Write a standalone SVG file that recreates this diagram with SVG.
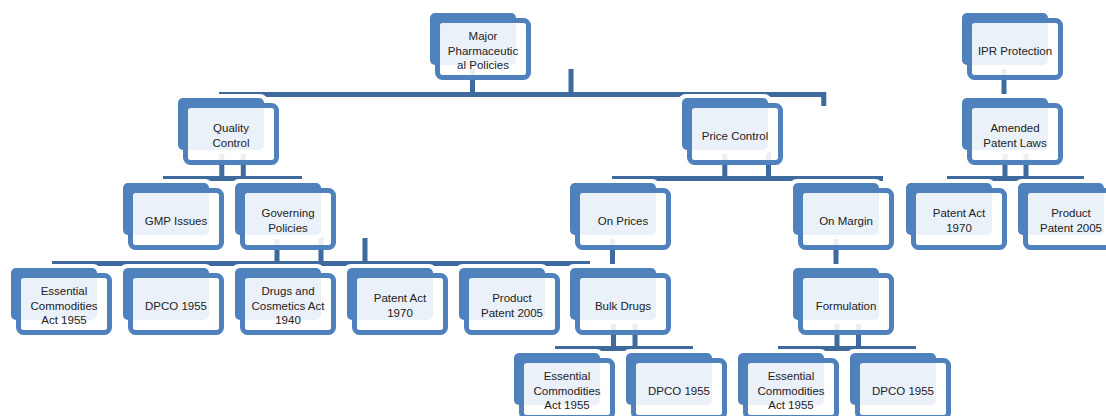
<svg xmlns="http://www.w3.org/2000/svg" xmlns:xlink="http://www.w3.org/1999/xlink" width="1106" height="416" viewBox="0 0 1106 416">
<style>
.halo{fill:#ffffff}
.back{fill:#4F81BD}
.front{fill:#ffffff;fill-opacity:0.89;stroke:#4F81BD;stroke-width:5}
.conn path{fill:none;stroke:#3F6A9E;stroke-width:5;stroke-linecap:butt}
text{font-family:"Liberation Sans",Arial,sans-serif;font-size:11.5px;fill:#222222;text-anchor:middle}
</style>
<defs>
<g id="box">
<rect class="halo" x="-4" y="-4" width="94" height="60" rx="8"/>
<rect class="back" x="0" y="0" width="86" height="52" rx="5"/>
<rect class="front" x="7.5" y="7.5" width="91" height="57" rx="5"/>
</g>
</defs>
<rect width="1106" height="416" fill="#ffffff"/>
<g id="connectors" class="conn">
<path d="M472.5 63V94.5M571 69V94.5M219 94.5H823.75V106"/>
<path d="M221.8 148V178.5M243.3 148V178.5M163 178.5H302"/>
<path d="M724.8 148V178.5M768.5 148V178.5M612 178.5H883"/>
<path d="M277 233V263.5M321 233V263.5M365 238V263.5M52 263.5H590"/>
<path d="M612.5 233V266M836 233V266"/>
<path d="M613.5 318V348.5M635 318V348.5M555 348.5H693"/>
<path d="M837 318V348.5M858.5 318V348.5M778 348.5H916"/>
<path d="M1004 63V96"/>
<path d="M1005 148V178.5M1026 148V178.5M947 178.5H1084"/>
</g>
<g id="n-major" transform="translate(430,13)"><use xlink:href="#box"/><text x="53" y="27">Major</text><text x="53" y="41.5">Pharmaceutic</text><text x="53" y="56">al Policies</text></g>
<g id="n-quality" transform="translate(178,98)"><use xlink:href="#box"/><text x="53" y="34.25">Quality</text><text x="53" y="48.75">Control</text></g>
<g id="n-price" transform="translate(682,98)"><use xlink:href="#box"/><text x="53" y="41.5">Price Control</text></g>
<g id="n-gmp" transform="translate(123,183)"><use xlink:href="#box"/><text x="53" y="41.5">GMP Issues</text></g>
<g id="n-governing" transform="translate(235,183)"><use xlink:href="#box"/><text x="53" y="34.25">Governing</text><text x="53" y="48.75">Policies</text></g>
<g id="n-onprices" transform="translate(570,183)"><use xlink:href="#box"/><text x="53" y="41.5">On Prices</text></g>
<g id="n-onmargin" transform="translate(793,183)"><use xlink:href="#box"/><text x="53" y="41.5">On Margin</text></g>
<g id="n-ess1" transform="translate(11,268)"><use xlink:href="#box"/><text x="53" y="27">Essential</text><text x="53" y="41.5">Commodities</text><text x="53" y="56">Act 1955</text></g>
<g id="n-dpco1" transform="translate(123,268)"><use xlink:href="#box"/><text x="53" y="41.5">DPCO 1955</text></g>
<g id="n-drugs" transform="translate(235,268)"><use xlink:href="#box"/><text x="53" y="27">Drugs and</text><text x="53" y="41.5">Cosmetics Act</text><text x="53" y="56">1940</text></g>
<g id="n-patent1" transform="translate(347,268)"><use xlink:href="#box"/><text x="53" y="34.25">Patent Act</text><text x="53" y="48.75">1970</text></g>
<g id="n-product1" transform="translate(459,268)"><use xlink:href="#box"/><text x="53" y="34.25">Product</text><text x="53" y="48.75">Patent 2005</text></g>
<g id="n-bulk" transform="translate(570,268)"><use xlink:href="#box"/><text x="53" y="41.5">Bulk Drugs</text></g>
<g id="n-formulation" transform="translate(793,268)"><use xlink:href="#box"/><text x="53" y="41.5">Formulation</text></g>
<g id="n-ess2" transform="translate(514,353)"><use xlink:href="#box"/><text x="53" y="27">Essential</text><text x="53" y="41.5">Commodities</text><text x="53" y="56">Act 1955</text></g>
<g id="n-dpco2" transform="translate(626,353)"><use xlink:href="#box"/><text x="53" y="41.5">DPCO 1955</text></g>
<g id="n-ess3" transform="translate(738,353)"><use xlink:href="#box"/><text x="53" y="27">Essential</text><text x="53" y="41.5">Commodities</text><text x="53" y="56">Act 1955</text></g>
<g id="n-dpco3" transform="translate(850,353)"><use xlink:href="#box"/><text x="53" y="41.5">DPCO 1955</text></g>
<g id="n-ipr" transform="translate(962,13)"><use xlink:href="#box"/><text x="53" y="41.5">IPR Protection</text></g>
<g id="n-amended" transform="translate(962,98)"><use xlink:href="#box"/><text x="53" y="34.25">Amended</text><text x="53" y="48.75">Patent Laws</text></g>
<g id="n-patent2" transform="translate(906,183)"><use xlink:href="#box"/><text x="53" y="34.25">Patent Act</text><text x="53" y="48.75">1970</text></g>
<g id="n-product2" transform="translate(1018,183)"><use xlink:href="#box"/><text x="53" y="34.25">Product</text><text x="53" y="48.75">Patent 2005</text></g>
</svg>
